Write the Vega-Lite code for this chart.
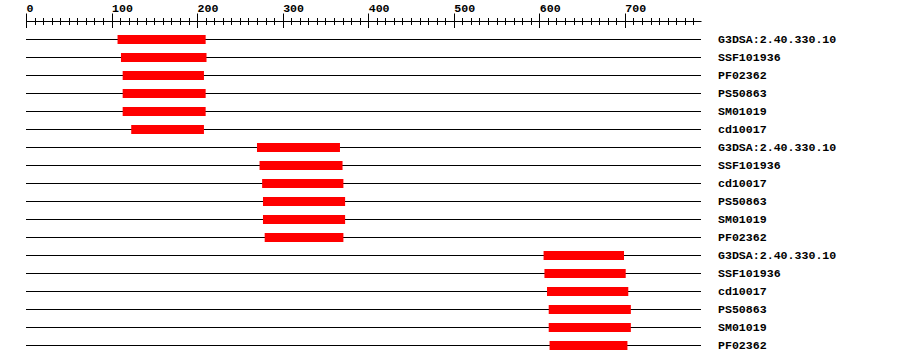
{
  "$schema": "https://vega.github.io/schema/vega-lite/v6.json",
  "autosize": "none",
  "padding": {"left": 26, "top": 30.5, "right": 199, "bottom": 9.5},
  "width": 675,
  "height": 324,
  "background": "white",
  "config": {"view": {"stroke": null}},
  "data": {"values": [
    {"row": 1, "label": "G3DSA:2.40.330.10", "start": 107, "end": 210},
    {"row": 2, "label": "SSF101936", "start": 111, "end": 211},
    {"row": 3, "label": "PF02362", "start": 113, "end": 208},
    {"row": 4, "label": "PS50863", "start": 113, "end": 210},
    {"row": 5, "label": "SM01019", "start": 113, "end": 210},
    {"row": 6, "label": "cd10017", "start": 123, "end": 208},
    {"row": 7, "label": "G3DSA:2.40.330.10", "start": 270, "end": 367},
    {"row": 8, "label": "SSF101936", "start": 273, "end": 370},
    {"row": 9, "label": "cd10017", "start": 276, "end": 371},
    {"row": 10, "label": "PS50863", "start": 277, "end": 373},
    {"row": 11, "label": "SM01019", "start": 277, "end": 373},
    {"row": 12, "label": "PF02362", "start": 279, "end": 371},
    {"row": 13, "label": "G3DSA:2.40.330.10", "start": 605, "end": 699},
    {"row": 14, "label": "SSF101936", "start": 606, "end": 701},
    {"row": 15, "label": "cd10017", "start": 609, "end": 704},
    {"row": 16, "label": "PS50863", "start": 611, "end": 707},
    {"row": 17, "label": "SM01019", "start": 611, "end": 707},
    {"row": 18, "label": "PF02362", "start": 612, "end": 703}
  ]},
  "resolve": {"axis": {"x": "independent"}},
  "layer": [
    {
      "mark": {"type": "rule", "color": "black", "strokeWidth": 1},
      "encoding": {
        "x": {"datum": 0, "type": "quantitative", "scale": {"domain": [0, 789], "nice": false, "zero": false},
          "axis": {"orient": "top", "offset": 9.5, "title": null, "grid": false, "labels": false,
            "values": [0,10,20,30,40,50,60,70,80,90,100,110,120,130,140,150,160,170,180,190,200,210,220,230,240,250,260,270,280,290,300,310,320,330,340,350,360,370,380,390,400,410,420,430,440,450,460,470,480,490,500,510,520,530,540,550,560,570,580,590,600,610,620,630,640,650,660,670,680,690,700,710,720,730,740,750,760,770,780],
            "tickSize": 3.5, "tickColor": "black", "tickWidth": 1, "domain": true, "domainColor": "black", "domainWidth": 1}},
        "x2": {"datum": 789},
        "y": {"field": "row", "type": "ordinal", "axis": null, "scale": {"paddingInner": 0, "paddingOuter": 0}}
      }
    },
    {
      "mark": {"type": "bar", "color": "#ff0000", "size": 9},
      "encoding": {
        "x": {"field": "start", "type": "quantitative",
          "axis": {"orient": "top", "offset": 9.5, "title": null, "grid": false, "labels": false,
            "values": [0,10,20,30,40,50,60,70,80,90,100,110,120,130,140,150,160,170,180,190,200,210,220,230,240,250,260,270,280,290,300,310,320,330,340,350,360,370,380,390,400,410,420,430,440,450,460,470,480,490,500,510,520,530,540,550,560,570,580,590,600,610,620,630,640,650,660,670,680,690,700,710,720,730,740,750,760,770,780],
            "tickSize": -3.5, "tickColor": "black", "tickWidth": 1, "domain": false}},
        "x2": {"field": "end"},
        "y": {"field": "row", "type": "ordinal", "axis": null}
      }
    },
    {
      "mark": {"type": "text", "font": "Liberation Mono", "fontWeight": "bold", "fontSize": 11.6, "align": "left", "baseline": "middle", "dx": 17, "dy": 0.5, "color": "black"},
      "encoding": {
        "x": {"datum": 789, "type": "quantitative",
          "axis": {"orient": "top", "offset": 9.5, "title": null, "grid": false, "labels": true,
            "values": [0,100,200,300,400,500,600,700],
            "tickSize": 8, "tickColor": "black", "tickWidth": 1, "domain": false,
            "labelAlign": "left", "labelBaseline": "alphabetic", "labelPadding": 1.5, "labelOffset": 0,
            "labelFont": "Liberation Mono", "labelFontWeight": "bold", "labelFontSize": 11.6, "labelColor": "black",
            "labelFlush": false, "labelOverlap": false, "labelBound": false}},
        "y": {"field": "row", "type": "ordinal", "axis": null},
        "text": {"field": "label"}
      }
    },
    {
      "mark": {"type": "rule", "strokeOpacity": 0},
      "encoding": {
        "x": {"datum": 0, "type": "quantitative",
          "axis": {"orient": "top", "offset": 9.5, "title": null, "grid": false, "labels": false,
            "values": [0,100,200,300,400,500,600,700],
            "tickSize": -6.5, "tickColor": "black", "tickWidth": 1, "domain": false}},
        "y": {"field": "row", "type": "ordinal", "axis": null}
      }
    }
  ]
}
